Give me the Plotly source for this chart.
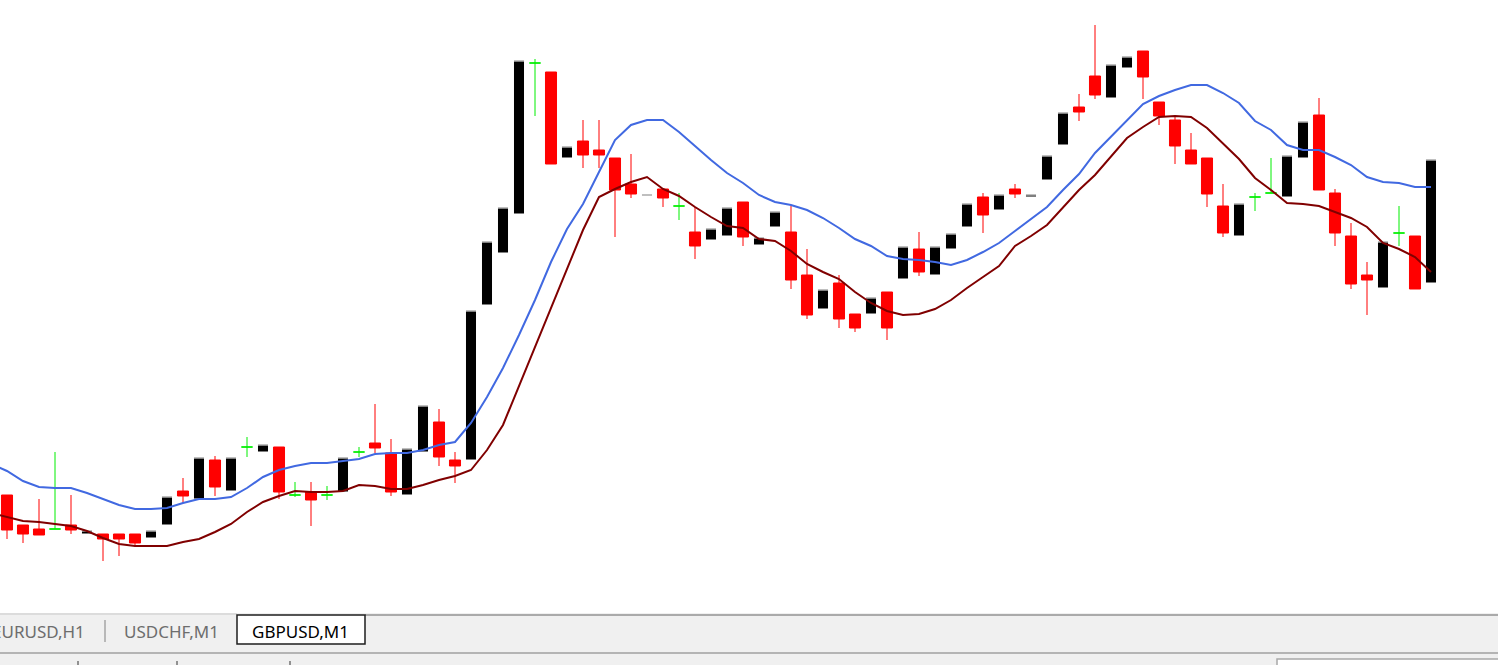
import plotly.graph_objects as go

# GBPUSD M1 candles (oldest -> newest)
opens = [1.20505, 1.20475, 1.20471, 1.20471, 1.20475, 1.20466, 1.20466, 1.20466, 1.20466, 1.20462,
         1.20475, 1.20509, 1.20501, 1.20540, 1.20509, 1.20553, 1.20548, 1.20553, 1.20505, 1.20508,
         1.20505, 1.20508, 1.20548, 1.20557, 1.20547, 1.20505, 1.20548, 1.20578, 1.20540, 1.20540,
         1.20695, 1.20747, 1.20786, 1.20937, 1.20928, 1.20842, 1.20859, 1.20850, 1.20842, 1.20816,
         1.20804, 1.20811, 1.20794, 1.20768, 1.20760, 1.20764, 1.20798, 1.20755, 1.20773, 1.20768,
         1.20725, 1.20691, 1.20717, 1.20686, 1.20686, 1.20708, 1.20721, 1.20751, 1.20725, 1.20751,
         1.20773, 1.20803, 1.20790, 1.20811, 1.20803, 1.20820, 1.20855, 1.20893, 1.20924, 1.20902,
         1.20932, 1.20949, 1.20898, 1.20880, 1.20850, 1.20842, 1.20794, 1.20764, 1.20803, 1.20807,
         1.20803, 1.20842, 1.20885, 1.20807, 1.20764, 1.20725, 1.20712, 1.20767, 1.20764, 1.20717]
highs = [1.20505, 1.20475, 1.20501, 1.20548, 1.20505, 1.20470, 1.20466, 1.20466, 1.20466, 1.20470,
         1.20504, 1.20522, 1.20543, 1.20544, 1.20543, 1.20563, 1.20556, 1.20553, 1.20518, 1.20518,
         1.20514, 1.20543, 1.20553, 1.20596, 1.20561, 1.20552, 1.20595, 1.20591, 1.20548, 1.20690,
         1.20759, 1.20793, 1.20940, 1.20941, 1.20928, 1.20854, 1.20880, 1.20880, 1.20842, 1.20846,
         1.20806, 1.20811, 1.20807, 1.20793, 1.20772, 1.20793, 1.20798, 1.20763, 1.20789, 1.20794,
         1.20751, 1.20711, 1.20725, 1.20686, 1.20703, 1.20708, 1.20754, 1.20768, 1.20754, 1.20767,
         1.20797, 1.20807, 1.20806, 1.20816, 1.20806, 1.20845, 1.20888, 1.20906, 1.20975, 1.20936,
         1.20944, 1.20949, 1.20898, 1.20884, 1.20867, 1.20842, 1.20816, 1.20797, 1.20807, 1.20842,
         1.20845, 1.20879, 1.20902, 1.20811, 1.20777, 1.20738, 1.20759, 1.20794, 1.20764, 1.20841]
lows = [1.20461, 1.20457, 1.20465, 1.20471, 1.20466, 1.20466, 1.20439, 1.20444, 1.20453, 1.20462,
        1.20475, 1.20497, 1.20501, 1.20504, 1.20509, 1.20543, 1.20548, 1.20501, 1.20503, 1.20474,
        1.20500, 1.20508, 1.20543, 1.20547, 1.20504, 1.20505, 1.20548, 1.20534, 1.20517, 1.20540,
        1.20695, 1.20747, 1.20786, 1.20884, 1.20836, 1.20842, 1.20832, 1.20832, 1.20763, 1.20802,
        1.20804, 1.20793, 1.20780, 1.20741, 1.20760, 1.20764, 1.20754, 1.20755, 1.20773, 1.20711,
        1.20681, 1.20691, 1.20672, 1.20668, 1.20686, 1.20660, 1.20721, 1.20724, 1.20725, 1.20751,
        1.20773, 1.20767, 1.20790, 1.20802, 1.20803, 1.20820, 1.20855, 1.20879, 1.20901, 1.20902,
        1.20932, 1.20901, 1.20875, 1.20836, 1.20836, 1.20793, 1.20763, 1.20764, 1.20789, 1.20807,
        1.20803, 1.20842, 1.20810, 1.20754, 1.20711, 1.20685, 1.20712, 1.20754, 1.20711, 1.20717]
closes = [1.20470, 1.20466, 1.20465, 1.20471, 1.20470, 1.20470, 1.20461, 1.20461, 1.20457, 1.20470,
          1.20504, 1.20504, 1.20543, 1.20513, 1.20543, 1.20553, 1.20556, 1.20508, 1.20505, 1.20500,
          1.20505, 1.20543, 1.20548, 1.20552, 1.20508, 1.20552, 1.20595, 1.20543, 1.20534, 1.20690,
          1.20759, 1.20793, 1.20940, 1.20937, 1.20836, 1.20854, 1.20845, 1.20845, 1.20810, 1.20806,
          1.20806, 1.20802, 1.20794, 1.20754, 1.20772, 1.20793, 1.20763, 1.20763, 1.20789, 1.20720,
          1.20685, 1.20711, 1.20681, 1.20672, 1.20703, 1.20672, 1.20754, 1.20728, 1.20754, 1.20767,
          1.20797, 1.20785, 1.20806, 1.20806, 1.20806, 1.20845, 1.20888, 1.20888, 1.20905, 1.20936,
          1.20944, 1.20923, 1.20884, 1.20854, 1.20836, 1.20806, 1.20767, 1.20797, 1.20803, 1.20807,
          1.20845, 1.20879, 1.20810, 1.20767, 1.20716, 1.20720, 1.20759, 1.20767, 1.20711, 1.20841]

# moving averages, first value belongs to the bar before the first visible candle
ma_blue = [1.20536, 1.20529, 1.20519, 1.20513, 1.20512, 1.20512, 1.20507, 1.20501, 1.20495, 1.20491,
           1.20491, 1.20492, 1.20497, 1.20501, 1.20501, 1.20503, 1.20512, 1.20523, 1.20530, 1.20534,
           1.20537, 1.20537, 1.20539, 1.20541, 1.20546, 1.20547, 1.20547, 1.20550, 1.20555, 1.20558,
           1.20577, 1.20603, 1.20632, 1.20665, 1.20700, 1.20738, 1.20771, 1.20796, 1.20828, 1.20860,
           1.20875, 1.20880, 1.20880, 1.20868, 1.20854, 1.20840, 1.20827, 1.20817, 1.20805, 1.20798,
           1.20795, 1.20790, 1.20782, 1.20772, 1.20761, 1.20754, 1.20744, 1.20741, 1.20740, 1.20738,
           1.20735, 1.20740, 1.20748, 1.20757, 1.20769, 1.20781, 1.20793, 1.20810, 1.20826, 1.20847,
           1.20863, 1.20880, 1.20896, 1.20904, 1.20910, 1.20915, 1.20915, 1.20907, 1.20897, 1.20879,
           1.20870, 1.20855, 1.20850, 1.20850, 1.20843, 1.20835, 1.20823, 1.20818, 1.20817, 1.20813,
           1.20813]
ma_red = [1.20487, 1.20483, 1.20479, 1.20478, 1.20476, 1.20474, 1.20469, 1.20462, 1.20456, 1.20454,
          1.20454, 1.20454, 1.20458, 1.20461, 1.20468, 1.20476, 1.20488, 1.20498, 1.20504, 1.20509,
          1.20508, 1.20508, 1.20509, 1.20515, 1.20514, 1.20511, 1.20511, 1.20515, 1.20520, 1.20524,
          1.20530, 1.20550, 1.20575, 1.20614, 1.20653, 1.20692, 1.20730, 1.20770, 1.20803, 1.20811,
          1.20818, 1.20823, 1.20811, 1.20804, 1.20793, 1.20783, 1.20774, 1.20772, 1.20761, 1.20759,
          1.20749, 1.20736, 1.20728, 1.20721, 1.20708, 1.20697, 1.20689, 1.20685, 1.20686, 1.20691,
          1.20700, 1.20712, 1.20723, 1.20734, 1.20754, 1.20764, 1.20775, 1.20793, 1.20810, 1.20825,
          1.20843, 1.20862, 1.20873, 1.20883, 1.20884, 1.20883, 1.20872, 1.20856, 1.20841, 1.20822,
          1.20810, 1.20797, 1.20796, 1.20794, 1.20788, 1.20782, 1.20773, 1.20757, 1.20751, 1.20743,
          1.20728]

tabs = ["EURUSD,H1", "USDCHF,M1", "GBPUSD,M1"]

W, H = 1498, 665
PLOT_H = 613  # chart area height in px, tab bar below


def px(x):
    return x / W


def py(y):
    return (PLOT_H - y) / PLOT_H


idx = list(range(len(opens)))
body = [i for i in idx if opens[i] != closes[i]]
doji = [i for i in idx if opens[i] == closes[i]]
ma_x = list(range(-1, len(opens)))

fig = go.Figure()
fig.add_trace(go.Candlestick(
    x=body,
    open=[opens[i] for i in body], high=[highs[i] for i in body],
    low=[lows[i] for i in body], close=[closes[i] for i in body],
    increasing=dict(line=dict(color="white", width=1), fillcolor="black"),
    decreasing=dict(line=dict(color="#FF0000", width=1), fillcolor="#FF0000"),
    hoverinfo="skip", showlegend=False,
))
fig.add_trace(go.Candlestick(
    x=doji,
    open=[opens[i] for i in doji], high=[highs[i] for i in doji],
    low=[lows[i] for i in doji], close=[closes[i] for i in doji],
    increasing=dict(line=dict(color="#00EE00", width=1), fillcolor="#00EE00"),
    decreasing=dict(line=dict(color="#00EE00", width=1), fillcolor="#00EE00"),
    hoverinfo="skip", showlegend=False,
))
fig.add_trace(go.Scatter(x=ma_x, y=ma_blue, mode="lines",
                         line=dict(color="#4169E1", width=2), hoverinfo="skip", showlegend=False))
fig.add_trace(go.Scatter(x=ma_x, y=ma_red, mode="lines",
                         line=dict(color="#800000", width=2), hoverinfo="skip", showlegend=False))

shapes = [
    # tab bar background
    dict(type="rect", xref="paper", yref="paper", x0=0, x1=1, y0=py(613), y1=py(665),
         fillcolor="#F0F0F0", line=dict(width=0), layer="above"),
    dict(type="line", xref="paper", yref="paper", x0=0, x1=px(237), y0=py(614), y1=py(614),
         line=dict(color="#C8C8C8", width=1)),
    dict(type="line", xref="paper", yref="paper", x0=px(365), x1=1, y0=py(615), y1=py(615),
         line=dict(color="#646464", width=1)),
    # active tab
    dict(type="rect", xref="paper", yref="paper", x0=px(237), x1=px(365), y0=py(615), y1=py(644),
         fillcolor="white", line=dict(color="#1E1E1E", width=1.5)),
    # separator between inactive tabs
    dict(type="line", xref="paper", yref="paper", x0=px(105), x1=px(105), y0=py(620), y1=py(642),
         line=dict(color="#808080", width=1)),
    # status bar
    dict(type="line", xref="paper", yref="paper", x0=0, x1=1, y0=py(653), y1=py(653),
         line=dict(color="#A0A0A0", width=1.5)),
    dict(type="rect", xref="paper", yref="paper", x0=px(1277), x1=px(1500), y0=py(659), y1=py(667),
         fillcolor="white", line=dict(color="#A8A8A8", width=1.5)),
]
for sx in [78, 177, 290]:
    shapes.append(dict(type="line", xref="paper", yref="paper", x0=px(sx), x1=px(sx),
                       y0=py(661), y1=py(665), line=dict(color="#333333", width=1)))

annotations = [
    dict(text=tabs[0], x=px(87), xanchor="right", font=dict(color="#6D6D6D")),
    dict(text=tabs[1], x=px(122), xanchor="left", font=dict(color="#6D6D6D")),
    dict(text=tabs[2], x=px(300), xanchor="center", font=dict(color="#000000")),
]
for a in annotations:
    a.update(xref="paper", yref="paper", y=py(631), yanchor="middle", showarrow=False)
    a["font"].update(family="Noto Sans", size=17)

fig.update_layout(
    width=W, height=H, autosize=False,
    margin=dict(l=0, r=0, t=0, b=H - PLOT_H, pad=0),
    paper_bgcolor="white", plot_bgcolor="white",
    xaxis=dict(visible=False, range=[-7 / 16, (W - 7) / 16], rangeslider=dict(visible=False)),
    yaxis=dict(visible=False, range=[1.21 - PLOT_H * 1e-5, 1.21]),
    boxgap=0.31, boxgroupgap=0,
    shapes=shapes, annotations=annotations,
    showlegend=False,
)

fig.write_html("out.html", config=dict(displayModeBar=False),
               post_script="document.body.style.margin='0';document.body.style.overflow='hidden';")
